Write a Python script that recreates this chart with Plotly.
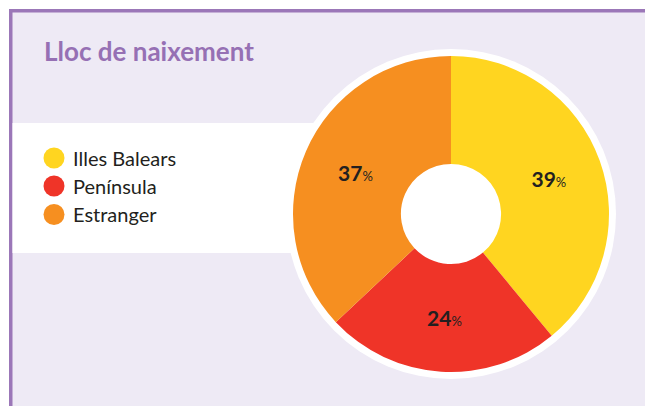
import plotly.graph_objects as go

W, H = 645, 406

categories = ["Illes Balears", "Península", "Estranger"]
values = [39, 24, 37]
colors = ["#FFD520", "#EF3428", "#F68F20"]
title = "Lloc de naixement"

LAV = "#EEEAF5"
PURPLE = "#9B77B8"
TXT = "#231F20"

def px(x):
    return x / W

def py(y):
    return (H - y) / H

cx, cy, r = 451, 214, 158

fig = go.Figure()
fig.add_trace(go.Pie(
    labels=categories,
    values=values,
    marker=dict(colors=colors, line=dict(width=0)),
    hole=0.317,
    sort=False,
    direction="clockwise",
    rotation=0,
    textposition="inside",
    insidetextorientation="horizontal",
    texttemplate="<b>%{value}</b><span style='font-size:13px;font-weight:normal'>%</span>",
    textfont=dict(family="Lato", size=21, color=TXT),
    showlegend=False,
    hoverinfo="label+percent",
    domain=dict(x=[px(cx - r), px(cx + r)], y=[py(cy + r), py(cy - r)]),
))

shapes = [
    # lavender panel with purple border
    dict(type="rect", xref="paper", yref="paper",
         x0=px(10.75), x1=1.05, y0=-0.05, y1=py(10.75),
         fillcolor=LAV, line=dict(color=PURPLE, width=3.5), layer="below"),
    # white band behind legend
    dict(type="rect", xref="paper", yref="paper",
         x0=px(12.5), x1=px(cx), y0=py(253), y1=py(123),
         fillcolor="white", line=dict(width=0), layer="below"),
    # white ring behind donut
    dict(type="circle", xref="paper", yref="paper",
         x0=px(cx - 165), x1=px(cx + 165), y0=py(cy + 165), y1=py(cy - 165),
         fillcolor="white", line=dict(width=0), layer="below"),
]

annotations = [
    dict(text="<b>" + title + "</b>", xref="paper", yref="paper",
         x=px(42), y=py(51), xanchor="left", yanchor="middle", showarrow=False,
         font=dict(family="Lato", size=26, color="#9670B4")),
]

leg_y = [158, 186, 214.5]
for cat, col, yy in zip(categories, colors, leg_y):
    shapes.append(dict(type="circle", xref="paper", yref="paper",
                       x0=px(43.5), x1=px(64.5), y0=py(yy + 10.5), y1=py(yy - 10.5),
                       fillcolor=col, line=dict(width=0)))
    annotations.append(dict(text=cat, xref="paper", yref="paper",
                            x=px(71), y=py(yy), xanchor="left", yanchor="middle",
                            showarrow=False,
                            font=dict(family="Lato", size=20, color=TXT)))

fig.update_layout(
    width=W, height=H,
    margin=dict(l=0, r=0, t=0, b=0),
    paper_bgcolor="white",
    plot_bgcolor="white",
    shapes=shapes,
    annotations=annotations,
)

fig.write_html(
    "out.html",
    config={"displayModeBar": False, "staticPlot": False},
    post_script="document.body.style.margin='0';document.body.style.padding='0';document.body.style.overflow='hidden';",
)
